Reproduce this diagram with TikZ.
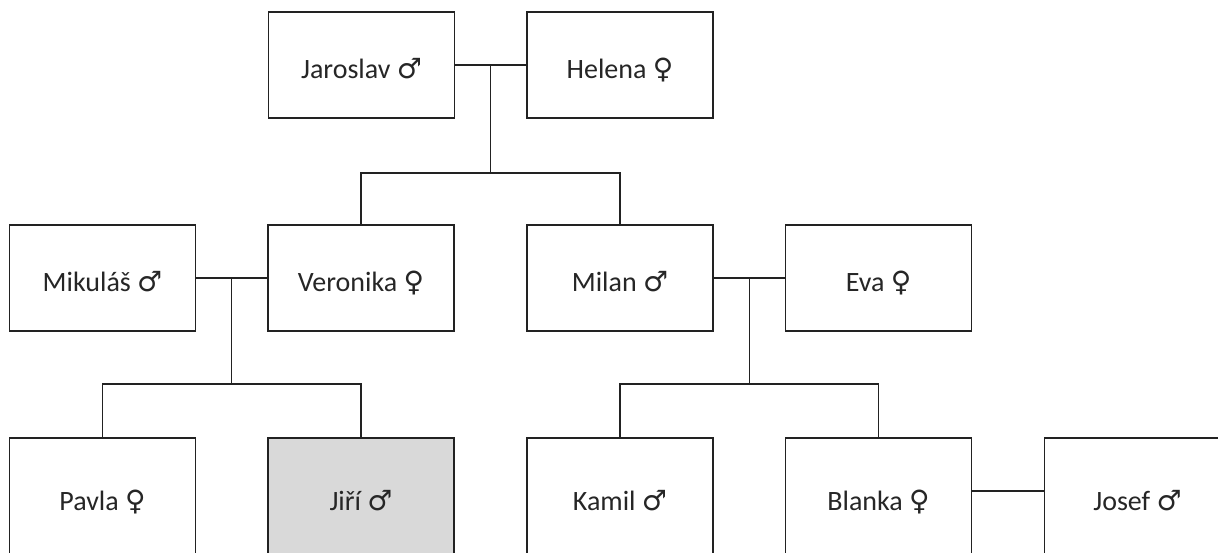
\documentclass[tikz,border=0pt]{standalone}
\usepackage{fontspec}
\setmainfont{Carlito}
\newfontfamily\symfont{DejaVu Sans}
\usetikzlibrary{calc}
\definecolor{lineclr}{HTML}{222222}
\definecolor{hilite}{HTML}{D9D9D9}
\newcommand{\male}{{\symfont\fontsize{28}{30}\selectfont ♂}}
\newcommand{\female}{{\symfont\fontsize{28}{30}\selectfont ♀}}
\begin{document}
\begin{tikzpicture}[x=1pt,y=-1pt,
  person/.style={draw=lineclr, line width=1.3pt, fill=white, rectangle, inner sep=0pt,
    minimum width=186pt, minimum height=106pt, text height=26pt, text depth=0pt,
    font=\fontsize{28}{32}\selectfont, text=black!85},
  lowperson/.style={person, minimum height=118pt},
  link/.style={draw=lineclr, line width=1.3pt}]
\useasboundingbox (0,0) rectangle (1218,552);
% row 1
\node[person] (jaroslav) at (361.5,65) {Jaroslav \male};
\node[person] (helena) at (620,65) {Helena \female};
% row 2
\node[person] (mikulas) at (102.5,278) {Mikuláš \male};
\node[person] (veronika) at (361,278) {Veronika \female};
\node[person] (milan) at (620,278) {Milan \male};
\node[person] (eva) at (878.5,278) {Eva \female};
% row 3
\node[lowperson] (pavla) at (102.5,497) {Pavla \female};
\node[lowperson, fill=hilite] (jiri) at (361,497) {Jiří \male};
\node[lowperson] (kamil) at (620,497) {Kamil \male};
\node[lowperson] (blanka) at (878.5,497) {Blanka \female};
\node[lowperson] (josef) at (1137.5,497) {Josef \male};
% couple lines
\coordinate (m1) at ($(jaroslav.east)!0.5!(helena.west)$);
\draw[link] (jaroslav.east) -- (helena.west);
\coordinate (m2) at ($(mikulas.east)!0.5!(veronika.west)$);
\draw[link] (mikulas.east) -- (veronika.west);
\coordinate (m3) at ($(milan.east)!0.5!(eva.west)$);
\draw[link] (milan.east) -- (eva.west);
\coordinate (bj) at ($(blanka.north east)!0.45!(blanka.south east)$);
\draw[link] (bj) -- (bj -| josef.west);
% descendant lines
\coordinate (b1) at ($(m1)+(0,108)$);
\draw[link] (m1) -- (b1);
\draw[link] (veronika.north) |- (b1) -| (milan.north);
\coordinate (b2) at ($(m2)+(0,106)$);
\draw[link] (m2) -- (b2);
\draw[link] (pavla.north) |- (b2) -| (jiri.north);
\coordinate (b3) at ($(m3)+(0,106)$);
\draw[link] (m3) -- (b3);
\draw[link] (kamil.north) |- (b3) -| (blanka.north);
\end{tikzpicture}
\end{document}
